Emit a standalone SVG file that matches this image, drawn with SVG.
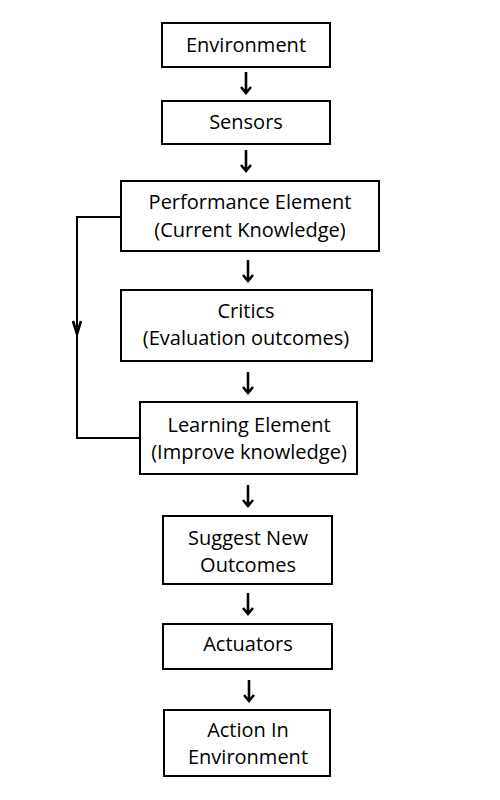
<svg xmlns="http://www.w3.org/2000/svg" width="500" height="800" viewBox="0 0 500 800">
<defs>
<style>
.box{fill:#fff;stroke:#000;stroke-width:2}
.t{font-family:"Open Sans","Noto Sans",sans-serif;font-size:20px;fill:#000;text-anchor:middle}
.c{fill:none;stroke:#000;stroke-width:2}
.a{fill:none;stroke:#000;stroke-width:2.6;stroke-linejoin:miter}
</style>
</defs>
<rect width="500" height="800" fill="#fff"/>
<g id="connectors">
<path class="a" d="M246 72V93M241 87L246 93L251 87"/>
<path class="a" d="M246 150V171M241 165L246 171L251 165"/>
<path class="a" d="M248 260V281M243 275L248 281L253 275"/>
<path class="a" d="M248 372V393M243 387L248 393L253 387"/>
<path class="a" d="M248 485V506M243 500L248 506L253 500"/>
<path class="a" d="M248 593V614M243 608L248 614L253 608"/>
<path class="a" d="M249 680V701M244 695L249 701L254 695"/>
<path class="c" d="M121 217H77V438H140"/>
<path class="a" d="M73 321L77 334L81 321"/>
</g>
<g id="environment"><rect class="box" x="162" y="23" width="168" height="44"/><text class="t" x="246" y="52">Environment</text></g>
<g id="sensors"><rect class="box" x="162" y="101" width="168" height="43"/><text class="t" x="246" y="129">Sensors</text></g>
<g id="performance"><rect class="box" x="121" y="181" width="258" height="70"/><text class="t" x="250" y="209">Performance Element</text><text class="t" x="250" y="237">(Current Knowledge)</text></g>
<g id="critics"><rect class="box" x="121" y="290" width="251" height="71"/><text class="t" x="246" y="318">Critics</text><text class="t" x="246" y="345">(Evaluation outcomes)</text></g>
<g id="learning"><rect class="box" x="140" y="402" width="217" height="72"/><text class="t" x="249" y="432">Learning Element</text><text class="t" x="249" y="459">(Improve knowledge)</text></g>
<g id="suggest"><rect class="box" x="163" y="516" width="169" height="68"/><text class="t" x="248" y="545">Suggest New</text><text class="t" x="248" y="572">Outcomes</text></g>
<g id="actuators"><rect class="box" x="163" y="624" width="169" height="45"/><text class="t" x="248" y="651">Actuators</text></g>
<g id="action"><rect class="box" x="164" y="710" width="166" height="66"/><text class="t" x="248" y="737">Action In</text><text class="t" x="248" y="764">Environment</text></g>
</svg>
